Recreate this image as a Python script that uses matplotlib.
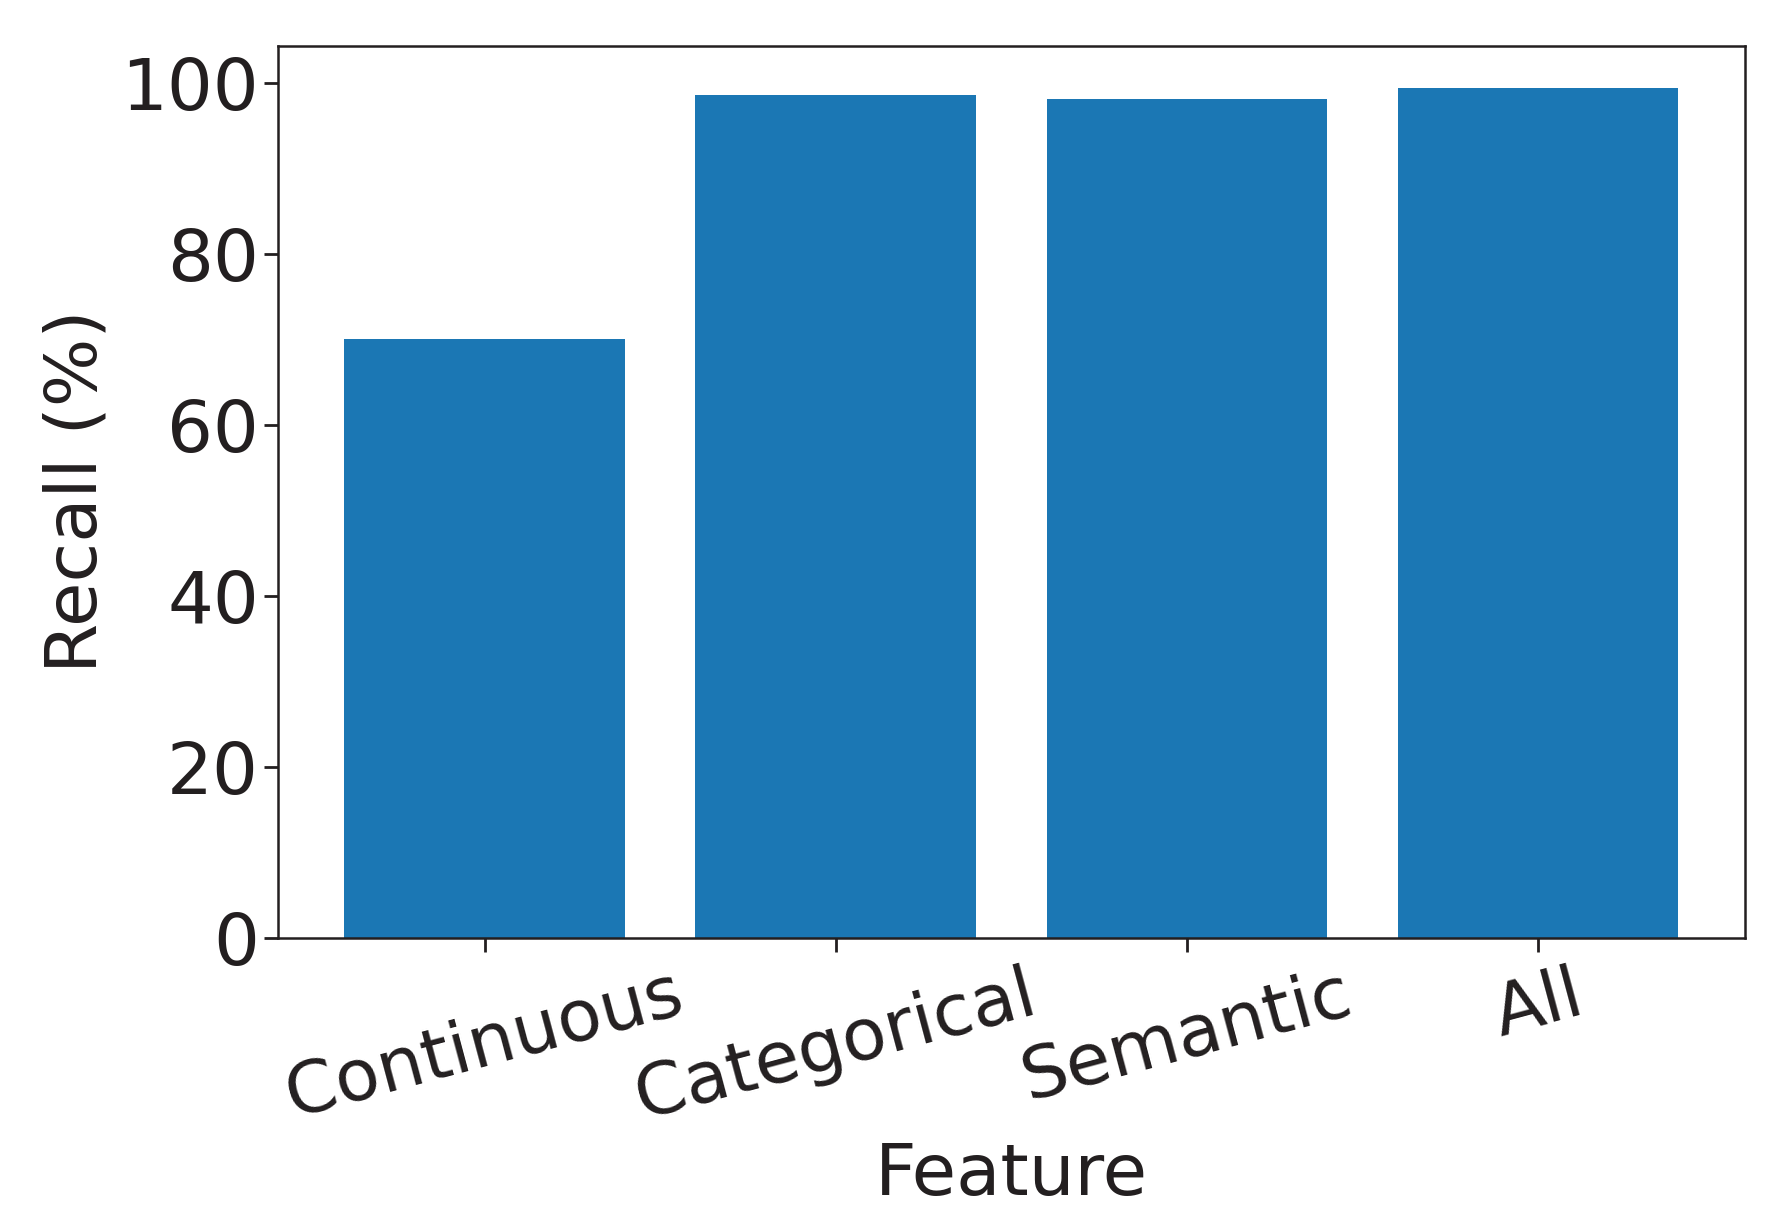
import matplotlib
matplotlib.use('Agg')
import matplotlib.pyplot as plt

features = ['Continuous', 'Categorical', 'Semantic', 'All']
recall = [70.1, 98.6, 98.2, 99.4]

plt.rcParams['font.family'] = ['DejaVu Sans']
dark = '#231f20'

fig = plt.figure(figsize=(17.69, 12.26), dpi=100)
ax = fig.add_axes([0.157, 0.2353, 0.8295, 0.7272])

ax.bar(features, recall, color='#1b77b4', width=0.8)

ax.set_xlabel('Feature', fontsize=52, color=dark, labelpad=6)
ax.set_ylabel('Recall (%)', fontsize=52, color=dark, labelpad=7)
ax.tick_params(axis='both', labelsize=52, colors=dark, length=10, width=2)
ax.tick_params(axis='x', pad=6)
plt.setp(ax.get_xticklabels(), rotation=15, ha='center')
for s in ax.spines.values():
    s.set_linewidth(1.8)
    s.set_color(dark)

fig.savefig('out.png', dpi=100)
